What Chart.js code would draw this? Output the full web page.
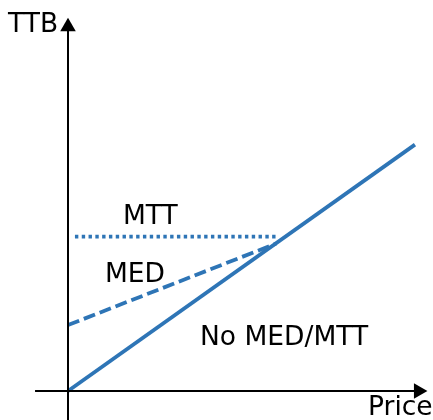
<!DOCTYPE html>
<html>
<head>
<meta charset="utf-8">
<script src="https://cdn.jsdelivr.net/npm/chart.js@4"></script>
<style>
html,body{margin:0;padding:0;background:#fff;}
canvas{display:block;}
</style>
</head>
<body>
<canvas id="c" width="433" height="420"></canvas>
<script>
// Series (Price, TTB) in arbitrary units
const noMedMttX = [0, 100];
const noMedMttY = [0, 71];
const medX = [0, 60];
const medY = [19, 42.5];
const mttX = [2, 60.5];
const mttY = [44.5, 44.5];
// Axes
const xAxisX = [-9.5, 100];
const xAxisY = [0, 0];
const yAxisX = [0, 0];
const yAxisY = [-8.5, 104];
const arrowX = [101, 0];
const arrowY = [0, 105];
// Text labels
const axisLabels = ["TTB", "Price"];
const seriesLabels = ["MTT", "MED", "No MED/MTT"];

const BLUE = '#2E75B6';
const pts = (xs, ys) => xs.map((x, i) => ({x: x, y: ys[i]}));

const textPlugin = {
  id: 'texts',
  afterDatasetsDraw(chart) {
    const ctx = chart.ctx;
    ctx.save();
    ctx.fillStyle = '#000';
    ctx.font = '26.5px "DejaVu Sans"';
    ctx.textBaseline = 'alphabetic';
    ctx.textAlign = 'left';
    const pos = [[8, 32], [368, 415]];
    axisLabels.forEach((t, i) => ctx.fillText(t, pos[i][0], pos[i][1]));
    const spos = [[123, 224], [105, 282], [200, 345]];
    seriesLabels.forEach((t, i) => ctx.fillText(t, spos[i][0], spos[i][1]));
    ctx.restore();
  }
};

new Chart(document.getElementById('c'), {
  type: 'scatter',
  data: {
    datasets: [
      {data: pts(xAxisX, xAxisY), showLine: true, borderColor: '#000', borderWidth: 2, pointRadius: 0},
      {data: pts(yAxisX, yAxisY), showLine: true, borderColor: '#000', borderWidth: 2, pointRadius: 0},
      {data: [{x: arrowX[0], y: arrowY[0]}], pointStyle: 'triangle', rotation: 90, pointRadius: 9, backgroundColor: '#000', borderColor: '#000', borderWidth: 0},
      {data: [{x: arrowX[1], y: arrowY[1]}], pointStyle: 'triangle', rotation: 0, pointRadius: 9, backgroundColor: '#000', borderColor: '#000', borderWidth: 0},
      {label: seriesLabels[0], data: pts(mttX, mttY), showLine: true, borderColor: BLUE, borderWidth: 3.8, borderDash: [3.4, 3.4], borderCapStyle: 'butt', pointRadius: 0},
      {label: seriesLabels[1], data: pts(medX, medY), showLine: true, borderColor: BLUE, borderWidth: 3.8, borderDash: [12, 5], borderCapStyle: 'butt', pointRadius: 0},
      {label: seriesLabels[2], data: pts(noMedMttX, noMedMttY), showLine: true, borderColor: BLUE, borderWidth: 3.8, borderCapStyle: 'butt', pointRadius: 0}
    ]
  },
  options: {
    responsive: false,
    animation: false,
    events: [],
    layout: {padding: 0, autoPadding: false},
    plugins: {legend: {display: false}, tooltip: {enabled: false}, title: {display: false}},
    scales: {
      x: {type: 'linear', display: false, min: -19.6, max: 105.2},
      y: {type: 'linear', display: false, min: -8.36, max: 112.7}
    }
  },
  plugins: [textPlugin]
});
</script>
</body>
</html>
